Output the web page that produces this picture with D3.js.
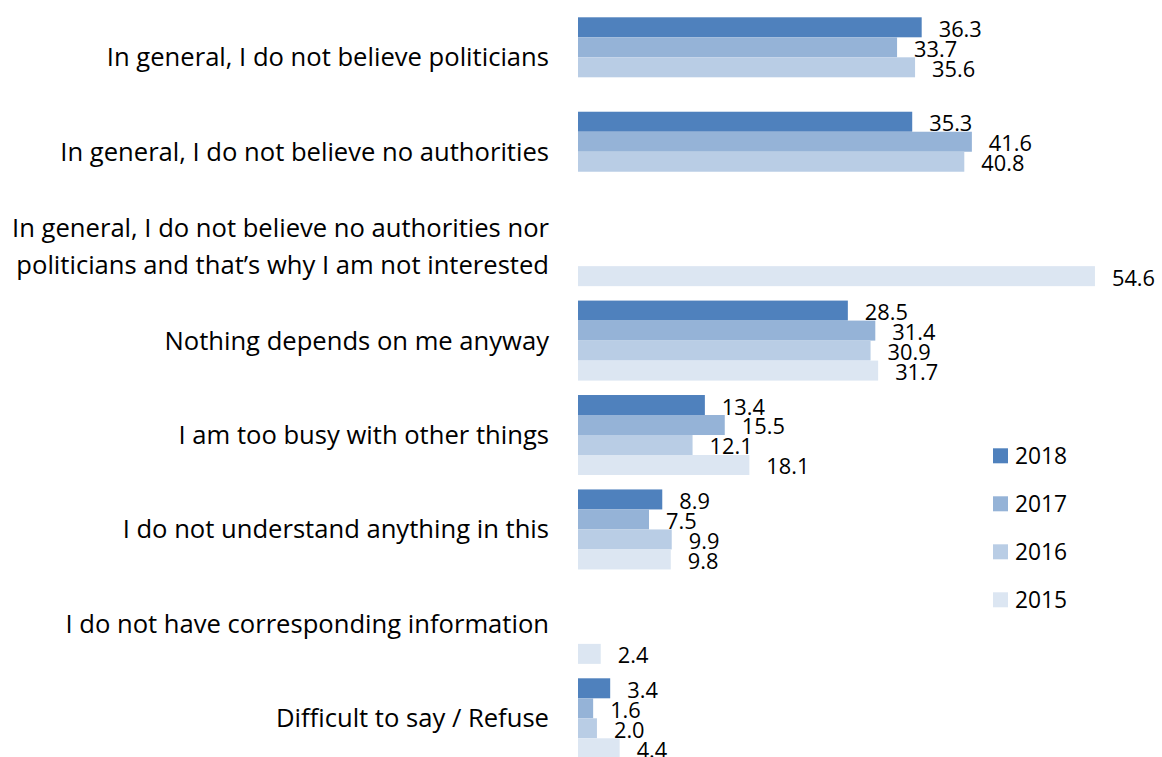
<!DOCTYPE html>
<html>
<head>
<meta charset="utf-8">
<script src="https://cdn.jsdelivr.net/npm/d3@7"></script>
<style>
  html, body { margin: 0; padding: 0; background: #fff; overflow: hidden; }
  svg { display: block; font-family: "Open Sans", Lato, sans-serif; }
  .cat-label { font-size: 25.6px; fill: #000; }
  .val-label { font-size: 21.8px; fill: #000; }
  .legend-label { font-size: 22.8px; fill: #000; }
</style>
</head>
<body>
<div id="chart"></div>
<script>
const categories = [
  "In general, I do not believe politicians",
  "In general, I do not believe no authorities",
  "In general, I do not believe no authorities nor\npoliticians and that\u2019s why I am not interested",
  "Nothing depends on me anyway",
  "I am too busy with other things",
  "I do not understand anything in this",
  "I do not have corresponding information",
  "Difficult to say / Refuse"
];
const years = ["2018", "2017", "2016", "2015"];
const values2018 = [36.3, 35.3, null, 28.5, 13.4, 8.9, null, 3.4];
const values2017 = [33.7, 41.6, null, 31.4, 15.5, 7.5, null, 1.6];
const values2016 = [35.6, 40.8, null, 30.9, 12.1, 9.9, null, 2.0];
const values2015 = [null, null, 54.6, 31.7, 18.1, 9.8, 2.4, 4.4];
const colors = ["#4F81BD", "#95B3D7", "#B9CDE5", "#DCE6F2"];

const seriesValues = [values2018, values2017, values2016, values2015];
const rows = categories.map((c, i) => ({
  category: c,
  values: years.map((y, j) => ({ year: y, value: seriesValues[j][i] }))
}));

const width = 1162, height = 757;
const svg = d3.select("#chart").append("svg")
  .attr("width", width)
  .attr("height", height);

const x = d3.scaleLinear().domain([0, 60]).range([578, 578 + 60 * 9.468]);
const y = d3.scaleBand().domain(categories).range([17.3, 758.3])
  .paddingInner(0.1528).paddingOuter(0);
const yInner = d3.scaleBand().domain(years).range([0, y.bandwidth()]);
const color = d3.scaleOrdinal().domain(years).range(colors);

const groups = svg.append("g").selectAll(".cat")
  .data(rows)
  .join("g")
  .attr("class", "cat")
  .attr("transform", d => `translate(0,${y(d.category)})`);

const bars = groups.selectAll(".bar")
  .data(d => d.values.filter(v => v.value != null))
  .join("g")
  .attr("class", "bar");

bars.append("rect")
  .attr("x", x(0))
  .attr("y", d => yInner(d.year))
  .attr("width", d => x(d.value) - x(0))
  .attr("height", yInner.bandwidth())
  .attr("fill", d => color(d.year));

bars.append("text")
  .attr("class", "val-label")
  .attr("x", d => x(d.value) + 17)
  .attr("y", d => yInner(d.year) + yInner.bandwidth() - 0.5)
  .text(d => d.value.toFixed(1));

// category labels, right aligned next to the bars
groups.append("text")
  .attr("class", "cat-label")
  .attr("text-anchor", "end")
  .attr("x", 549)
  .attr("y", y.bandwidth() / 2)
  .each(function (d) {
    const lines = d.category.split("\n");
    const lh = 37;
    const t = d3.select(this);
    lines.forEach((line, i) => {
      t.append("tspan")
        .attr("x", 549)
        .attr("y", y.bandwidth() / 2 + (i - (lines.length - 1) / 2) * lh)
        .attr("dy", "0.35em")
        .text(line);
    });
  });

// legend
const legend = svg.append("g").selectAll(".legend-item")
  .data(years)
  .join("g")
  .attr("class", "legend-item")
  .attr("transform", (d, i) => `translate(993,${448.3 + i * 48})`);

legend.append("rect")
  .attr("width", 15)
  .attr("height", 15)
  .attr("fill", d => color(d));

legend.append("text")
  .attr("class", "legend-label")
  .attr("x", 22)
  .attr("y", 7.5)
  .attr("dy", "0.35em")
  .text(d => d);
</script>
</body>
</html>
